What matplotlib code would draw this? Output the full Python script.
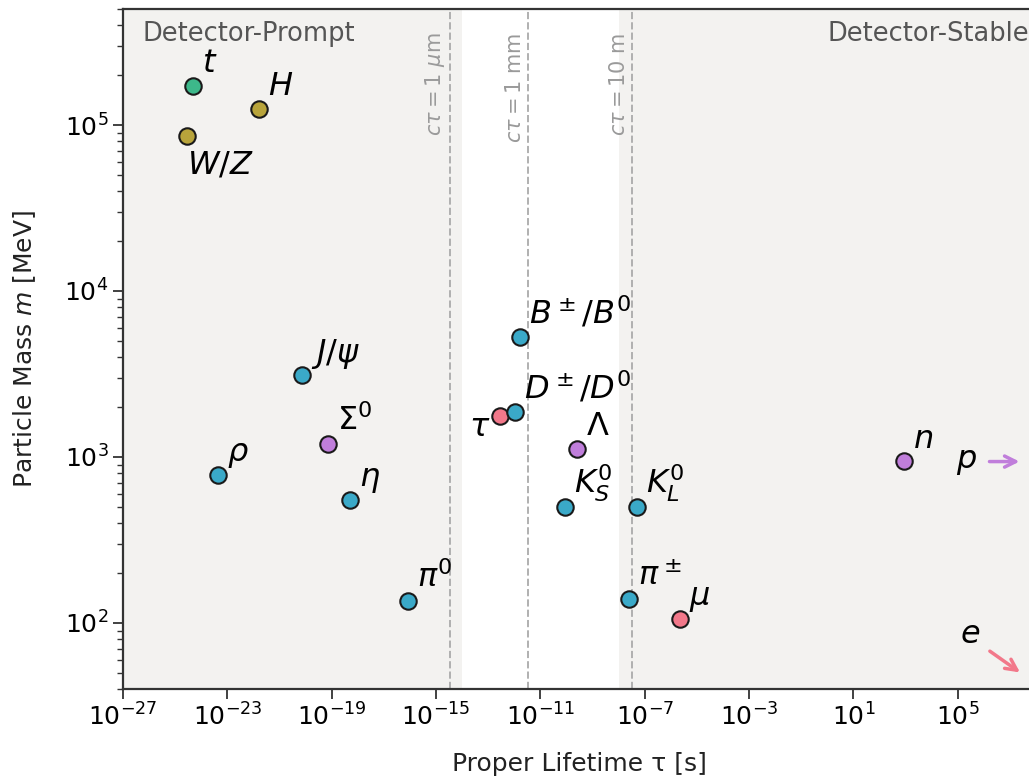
import matplotlib
matplotlib.use("Agg")
import matplotlib.pyplot as plt
import matplotlib.transforms as mtransforms
import numpy as np

# ----------------------------------------------------
# Particle data (lifetime in s, mass in MeV)
# ----------------------------------------------------
names = [r'$t$', r'$H$', r'$W/Z$', r'$\rho$', r'$J/\psi$', r'$\Sigma^0$',
         r'$\eta$', r'$\pi^0$', r'$\tau$', r'$D^\pm/D^0$', r'$B^\pm/B^0$',
         r'$\Lambda$', r'$K_S^0$', r'$K_L^0$', r'$\pi^\pm$', r'$\mu$', r'$n$']
lifetimes = [5.0e-25, 1.6e-22, 2.8e-25, 4.4e-24, 7.1e-21, 7.4e-20,
             5.0e-19, 8.5e-17, 2.9e-13, 1.04e-12, 1.6e-12,
             2.6e-10, 9.0e-11, 5.1e-8, 2.6e-8, 2.2e-6, 880.0]
masses = [1.727e5, 1.251e5, 8.58e4, 775, 3097, 1193,
          548, 135, 1777, 1867, 5279,
          1116, 498, 498, 139.6, 105.7, 939.6]
groups = ['top', 'boson', 'boson', 'meson', 'meson', 'baryon',
          'meson', 'meson', 'lepton', 'meson', 'meson',
          'baryon', 'meson', 'meson', 'meson', 'lepton', 'baryon']

# off-scale particles drawn as arrows
p_mass = 938.3
e_mass = 0.511

# decay length lines, c*tau in metres
ctau_m = [1e-6, 1e-3, 10.0]
ctau_labels = [r'$c\tau = 1\ \mu$m', r'$c\tau = 1$ mm', r'$c\tau = 10$ m']
prompt_edge = 1e-14
stable_edge = 1e-8
c_light = 2.998e8

colors = {
    'meson': '#3aa9c8',
    'lepton': '#f2788a',
    'baryon': '#c07edb',
    'top': '#3db88a',
    'boson': '#b8a43b',
}

# label placement: (dx, dy) in points, ha, va
default_place = ((6.5, 10), 'left', 'baseline')
special_place = {
    r'$W/Z$': ((0, -10), 'left', 'top'),
    r'$\tau$': ((-7, -15), 'right', 'baseline'),
}

fig = plt.figure(figsize=(10.29, 7.76), dpi=100)
ax = fig.add_axes([0.1195, 0.1121, 0.8873, 0.8763])

xmin, xmax = 1e-27, 1e8
ymin, ymax = 40, 5e5
ax.set_xscale('log')
ax.set_yscale('log')
ax.set_xlim(xmin, xmax)
ax.set_ylim(ymin, ymax)

shade = '#f3f2f0'
ax.axvspan(xmin, prompt_edge, color=shade, zorder=0, lw=0)
ax.axvspan(stable_edge, xmax, color=shade, zorder=0, lw=0)

for ct, lab in zip(ctau_m, ctau_labels):
    tau = ct / c_light
    ax.axvline(tau, color='#b0b0b0', ls='--', lw=1.4, zorder=1)
    ax.text(tau / 1.3, ymax / 1.38, lab, rotation=90, ha='right', va='top',
            fontsize=15, color='#9a9a9a')

ax.text(0.021, 0.982, 'Detector-Prompt', transform=ax.transAxes,
        ha='left', va='top', fontsize=18.5, color='#555555')
ax.text(0.992, 0.982, 'Detector-Stable', transform=ax.transAxes,
        ha='right', va='top', fontsize=18.5, color='#555555')

for name, tau, m, g in zip(names, lifetimes, masses, groups):
    ax.scatter(tau, m, s=140, color=colors[g], edgecolor='#1a1a1a',
               linewidth=1.5, zorder=3)
    (dx, dy), ha, va = special_place.get(name, default_place)
    ax.annotate(name, (tau, m), xytext=(dx, dy), textcoords='offset points',
                ha=ha, va=va, fontsize=23, zorder=4)

# proton: stable, off to the right
blend = mtransforms.blended_transform_factory(ax.transAxes, ax.transData)
ax.annotate('', xy=(0.985, p_mass), xycoords=blend,
            xytext=(0.946, p_mass), textcoords=blend,
            arrowprops=dict(arrowstyle='->', color=colors['baryon'], lw=2.5,
                            mutation_scale=20))
ax.text(0.935, p_mass, r'$p$', transform=blend, ha='right', va='center',
        fontsize=23)

# electron: stable and below the mass range
ax.annotate('', xy=(0.985, 0.022), xycoords='axes fraction',
            xytext=(0.947, 0.058), textcoords='axes fraction',
            arrowprops=dict(arrowstyle='->', color=colors['lepton'], lw=2.5,
                            mutation_scale=20))
ax.text(0.928, 0.080, r'$e$', transform=ax.transAxes, ha='center',
        va='center', fontsize=23)

ax.set_xticks([10.0 ** k for k in range(-27, 8, 4)])
ax.xaxis.set_minor_locator(matplotlib.ticker.NullLocator())
ax.tick_params(which='major', labelsize=18, length=7, width=1.3, color='#333333')
ax.tick_params(which='minor', length=4, width=1.0, color='#333333')

for side in ['left', 'bottom', 'top']:
    ax.spines[side].set_linewidth(1.6)
    ax.spines[side].set_color('#333333')
ax.spines['right'].set_visible(False)

ax.set_xlabel('Proper Lifetime τ [s]', fontsize=18, color='#222222', labelpad=15)
ax.set_ylabel('Particle Mass $m$ [MeV]', fontsize=18, color='#222222', labelpad=19)

fig.savefig('out.png', dpi=100)
